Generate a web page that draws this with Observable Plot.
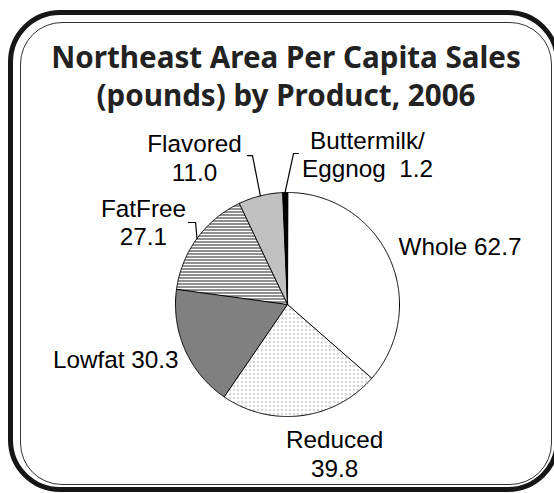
<!DOCTYPE html>
<html><head><meta charset="utf-8">
<script src="https://cdn.jsdelivr.net/npm/d3@7"></script>
<script src="https://cdn.jsdelivr.net/npm/@observablehq/plot@0.6"></script>
<style>
html,body{margin:0;padding:0;background:#fff;}
#wrap{position:relative;width:554px;height:493px;overflow:hidden;background:#fff;}
.outer{position:absolute;left:8px;top:10px;width:552px;height:482px;border:5px solid #161616;border-radius:52px;box-sizing:border-box;}
.inner{position:absolute;left:20px;top:22px;width:532px;height:463px;border:1px solid #333;border-radius:42px;box-sizing:border-box;}
#title{position:absolute;left:20px;top:38px;width:532px;text-align:center;font-family:"Noto Sans","DejaVu Sans",sans-serif;font-weight:bold;font-size:26px;line-height:38px;color:#222;white-space:nowrap;}
#chart{position:absolute;left:0;top:120px;}
</style></head>
<body>
<div id="wrap">
  <div class="outer"></div>
  <div class="inner"></div>
  <div id="title"><span id="t1">Northeast Area Per Capita Sales</span><br><span>(pounds) by Product, 2006</span></div>
  <svg width="0" height="0" style="position:absolute">
    <defs>
      <pattern id="dots" width="4" height="4" patternUnits="userSpaceOnUse">
        <rect width="4" height="4" fill="#fff"/><rect x="1" y="1" width="1" height="1" fill="#555"/>
      </pattern>
      <pattern id="hlines" width="4" height="3" patternUnits="userSpaceOnUse">
        <rect width="4" height="3" fill="#fff"/><rect y="1" width="4" height="1" fill="#222"/>
      </pattern>
    </defs>
  </svg>
  <div id="chart"></div>
</div>
<script>
// ---- data ----
const categories = ["Whole", "Reduced", "Lowfat", "FatFree", "Flavored", "Buttermilk/\nEggnog"];
const values = [62.7, 39.8, 30.3, 27.1, 11.0, 1.2];
const separators = [" ", "\n", " ", "\n", "\n", "  "];
const fills = ["#ffffff", "url(#dots)", "#808080", "url(#hlines)", "#c0c0c0", "#000000"];

// ---- layout (unit-circle coordinates, y up) ----
const labelLayout = [
  {x: 0.991, y: 0.446, anchor: "start"},
  {x: 0.42, y: -1.536, anchor: "middle"},
  {x: -0.973, y: -0.571, anchor: "end"},
  {x: -1.286, y: 0.527, anchor: "middle"},
  {x: -0.830, y: 1.107, anchor: "middle"},
  {x: 0.714, y: 1.134, anchor: "middle"}
];
const leaderLayout = [
  {i: 3, hook: -0.884, elbow: -0.821, y: 0.732},
  {i: 4, hook: -0.357, elbow: -0.3125, y: 1.330},
  {i: 5, hook: 0.098, elbow: 0.0536, y: 1.348}
];

// fit title width
const t1 = document.getElementById("t1");
const titleEl = document.getElementById("title");
const w0 = t1.getBoundingClientRect().width;
titleEl.style.fontSize = (26 * 470 / w0) + "px";

const W = 554, H = 373, cx = 287, cy = 184, R = 112;
const arcs = d3.pie().sort(null).value(d => d)(values);
const slices = arcs.map((a) => {
  const n = Math.max(2, Math.ceil((a.endAngle - a.startAngle) / (Math.PI / 360)));
  const pts = [{x: 0, y: 0}];
  for (let k = 0; k <= n; k++) {
    const t = a.startAngle + (a.endAngle - a.startAngle) * k / n;
    pts.push({x: Math.sin(t), y: Math.cos(t)});
  }
  return pts;
});
const leaders = leaderLayout.flatMap(L => {
  const a = arcs[L.i], m = (a.startAngle + a.endAngle) / 2;
  return [
    {g: L.i, x: L.hook, y: L.y},
    {g: L.i, x: L.elbow, y: L.y},
    {g: L.i, x: Math.sin(m), y: Math.cos(m)}
  ];
});
const labels = categories.map((c, i) => ({
  text: c + separators[i] + values[i].toFixed(1),
  x: labelLayout[i].x, y: labelLayout[i].y, anchor: labelLayout[i].anchor
}));
const textOpts = {x: "x", y: "y", text: "text", lineAnchor: "bottom", lineHeight: 1.17,
  fontSize: 24.3, fontFamily: "'Liberation Sans', Arial, sans-serif", fill: "#000"};

const plot = Plot.plot({
  width: W, height: H, margin: 0,
  style: {background: "transparent", overflow: "visible"},
  x: {domain: [-cx / R, (W - cx) / R], axis: null},
  y: {domain: [-(H - cy) / R, cy / R], axis: null},
  marks: [
    ...slices.map((pts, i) => Plot.line(pts, {x: "x", y: "y", curve: "linear-closed",
      fill: fills[i], stroke: "#000", strokeWidth: 1, strokeLinejoin: "miter"})),
    Plot.line(leaders, {x: "x", y: "y", z: "g", stroke: "#000", strokeWidth: 1.2}),
    ...["start", "middle", "end"].map(an =>
      Plot.text(labels.filter(d => d.anchor === an), {...textOpts, textAnchor: an}))
  ]
});
document.getElementById("chart").appendChild(plot);
</script>
</body></html>
